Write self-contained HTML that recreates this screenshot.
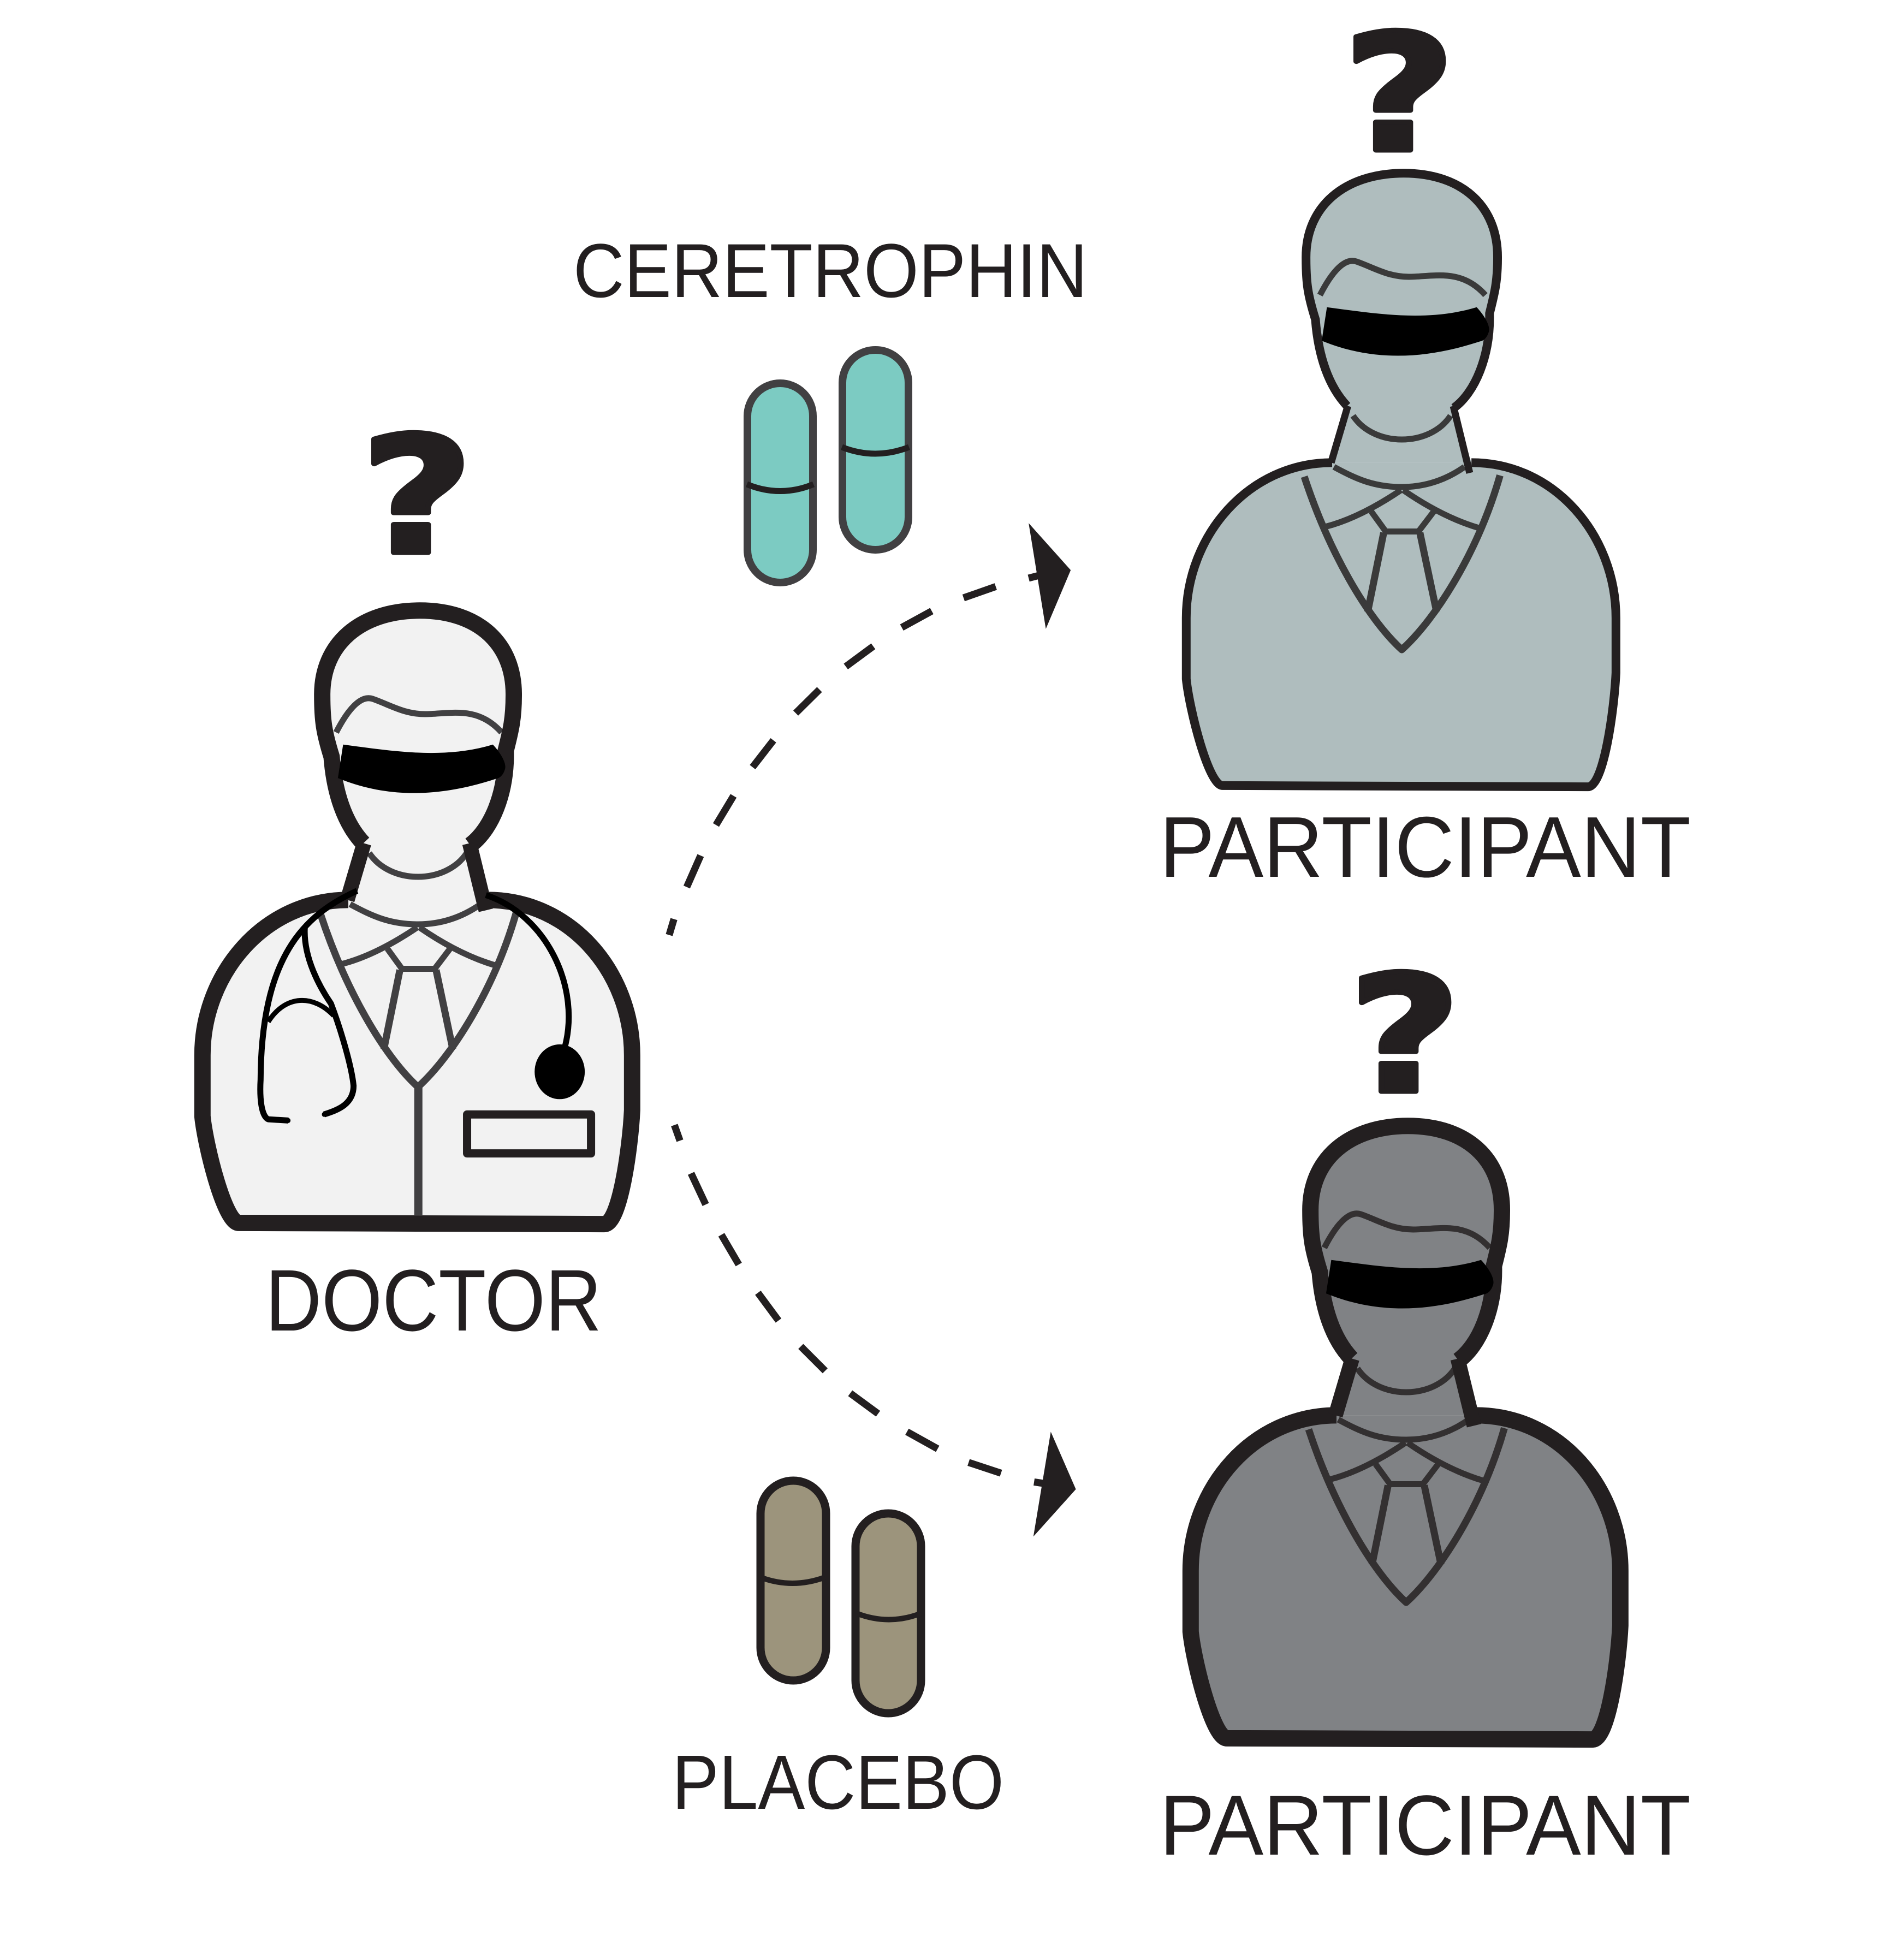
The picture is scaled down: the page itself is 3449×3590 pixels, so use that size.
<!DOCTYPE html>
<html><head><meta charset="utf-8"><style>
html,body{margin:0;padding:0;background:#fff}
svg{display:block}
path,ellipse,text{vector-effect:non-scaling-stroke;stroke-linejoin:round}
.f{fill:var(--f);stroke:none}
.o{fill:none;stroke:#231F20;stroke-width:var(--o)}
.k{fill:none;stroke:#231F20;stroke-width:var(--k);stroke-linecap:butt}
.i{fill:none;stroke:var(--i);stroke-width:11}
.i2{fill:none;stroke:var(--i);stroke-width:13}
.t{font-family:"Liberation Sans",sans-serif;fill:#231F20}
.q{font-family:"DejaVu Sans",sans-serif;font-weight:bold;fill:#231F20;stroke:#231F20;stroke-width:10;text-anchor:middle}
.d{fill:none;stroke:#231F20;stroke-width:13}
</style></head><body>
<svg xmlns="http://www.w3.org/2000/svg" width="3449" height="3590" viewBox="0 0 3449 3590">
<rect width="3449" height="3590" fill="#fff"/>
<defs>
<g id="p">
<path class="f" d="M573 712C520 680 490 630 482 570C460 530 455 510 455 470C453 385 565 330 735 330C905 330 1007 385 1005 470C1005 510 995 530 985 560C985 630 940 690 880 715L930 805L530 805Z"/>
<path class="f" d="M530 805C290 805 111 925 111 1060L111 1160C120 1210 175 1335 215 1335L1265 1337C1310 1337 1340 1210 1345 1150L1345 1060C1345 925 1170 805 930 805Z"/>
<path class="i" d="M495 530C540 480 575 470 600 475C650 485 690 500 750 500C820 500 900 485 970 530"/>
<path class="i" d="M590 728C650 780 810 780 870 728"/>
<path class="i" d="M535 812C600 832 650 845 730 845C800 845 860 832 910 812"/>
<path class="i2" d="M450 828C520 950 630 1060 730 1112C830 1060 950 950 1012 826"/>
<path class="i" d="M512 910C580 900 650 880 728 850M734 850C810 880 880 900 950 912"/>
<path class="i" d="M642 885L684 918H778L822 885"/>
<path class="i2" d="M678 920L632 1050M782 920L830 1050"/>
<path class="o" d="M530 805C290 805 111 925 111 1060L111 1160C120 1210 175 1335 215 1335L1265 1337C1310 1337 1340 1210 1345 1150L1345 1060C1345 925 1170 805 930 805"/>
<path class="o" d="M573 712C520 680 490 630 482 570C460 530 455 510 455 470C453 385 565 330 735 330C905 330 1007 385 1005 470C1005 510 995 530 982 560C985 630 940 690 880 715"/>
<path class="k" d="M575 712L527 805M878 712L925 822"/>
<path d="M515 550C650 560 800 575 945 550C965 562 985 580 980 590C975 600 965 605 955 606C800 635 650 640 500 605Z" fill="#000"/>
</g>
</defs>

<g style="--f:#F2F2F2;--o:30px;--k:27px;--i:#414042" transform="translate(300 750) scale(.6378 1.116)">
<use href="#p"/>
<path d="M731 1112V1322" fill="none" stroke="#414042" stroke-width="15"/>
<path d="M871 1157H1227V1221H871Z" fill="none" stroke="#231F20" stroke-width="15"/>
<path d="M555 790C400 830 280 900 278 1100C275 1130 280 1160 300 1165L358 1167" fill="none" stroke="#000" stroke-width="11"/>
<path d="M925 797C1100 830 1200 950 1150 1050" fill="none" stroke="#000" stroke-width="11"/>
<path d="M405 850C400 900 450 950 480 975C510 1020 540 1080 545 1110C545 1140 500 1150 460 1157" fill="none" stroke="#000" stroke-width="11"/>
<path d="M300 1005C350 960 430 960 488 995" fill="none" stroke="#000" stroke-width="9"/>
<ellipse cx="1137" cy="1087" rx="72" ry="45" fill="#000"/>
<ellipse cx="358" cy="1167" rx="6" ry="4" fill="#000"/>
<ellipse cx="460" cy="1157" rx="6" ry="4" fill="#000"/>
</g>
<g style="--f:#AFBDBE;--o:16px;--k:13px;--i:#3A3A3A" transform="translate(2102 -51) scale(.6378 1.116)"><use href="#p"/></g>
<g style="--f:#808285;--o:30px;--k:27px;--i:#333031" transform="translate(2110 1694) scale(.6378 1.116)"><use href="#p"/></g>

<text class="q" transform="translate(764 1012) scale(1.2 1)" font-size="296">?</text>
<text class="q" transform="translate(2563 275) scale(1.2 1)" font-size="296">?</text>
<text class="q" transform="translate(2573 1999) scale(1.2 1)" font-size="296">?</text>

<text class="t" x="486" y="2437" font-size="160" textLength="616" lengthAdjust="spacingAndGlyphs">DOCTOR</text>
<text class="t" x="2124" y="1606" font-size="158" textLength="973" lengthAdjust="spacingAndGlyphs">PARTICIPANT</text>
<text class="t" x="2124" y="3397" font-size="156" textLength="973" lengthAdjust="spacingAndGlyphs">PARTICIPANT</text>
<text class="t" x="1050" y="544" font-size="140" textLength="942" lengthAdjust="spacingAndGlyphs">CERETROPHIN</text>
<text class="t" x="1231" y="3313" font-size="141" textLength="608" lengthAdjust="spacingAndGlyphs">PLACEBO</text>

<g fill="#7CCBC2" stroke="#414042" stroke-width="14">
<rect x="1369" y="702" width="120" height="365" rx="60" ry="60"/>
<rect x="1543" y="641" width="121" height="366" rx="60" ry="60"/>
</g>
<g fill="none" stroke="#231F20" stroke-width="11">
<path d="M1368 887Q1429 912 1490 887"/>
<path d="M1542 819Q1603 843 1665 819"/>
</g>
<g fill="#9C947C" stroke="#231F20" stroke-width="15">
<rect x="1393" y="2712" width="120" height="366" rx="60" ry="60"/>
<rect x="1567" y="2772" width="120" height="366" rx="60" ry="60"/>
</g>
<g fill="none" stroke="#231F20" stroke-width="10">
<path d="M1393 2889Q1451 2911 1511 2889"/>
<path d="M1569 2955Q1628 2978 1687 2955"/>
</g>

<g transform="translate(1000 400) scale(.6698 .8613)">
<path class="d" d="M350 1490L337 1524M423 1355L385 1422M513 1228L465 1290M622 1110L565 1167M748 1002L683 1052M895 910L820 953M1055 835L973 870M1230 783L1142 807M1345 760L1320 765"/>
<path d="M1320 648L1435 748L1367 873Z" fill="#231F20"/>
</g>
<g transform="translate(1100 2000) scale(.6378 .893)">
<path class="d" d="M212 68L228 100M260 167L302 231M347 293L397 354M452 412L511 469M575 522L645 572M717 618L797 660M880 697L968 732M1057 760L1150 782M1245 800L1272 803"/>
<path d="M1293 697L1365 815L1243 912Z" fill="#231F20"/>
</g>
</svg>
</body></html>
